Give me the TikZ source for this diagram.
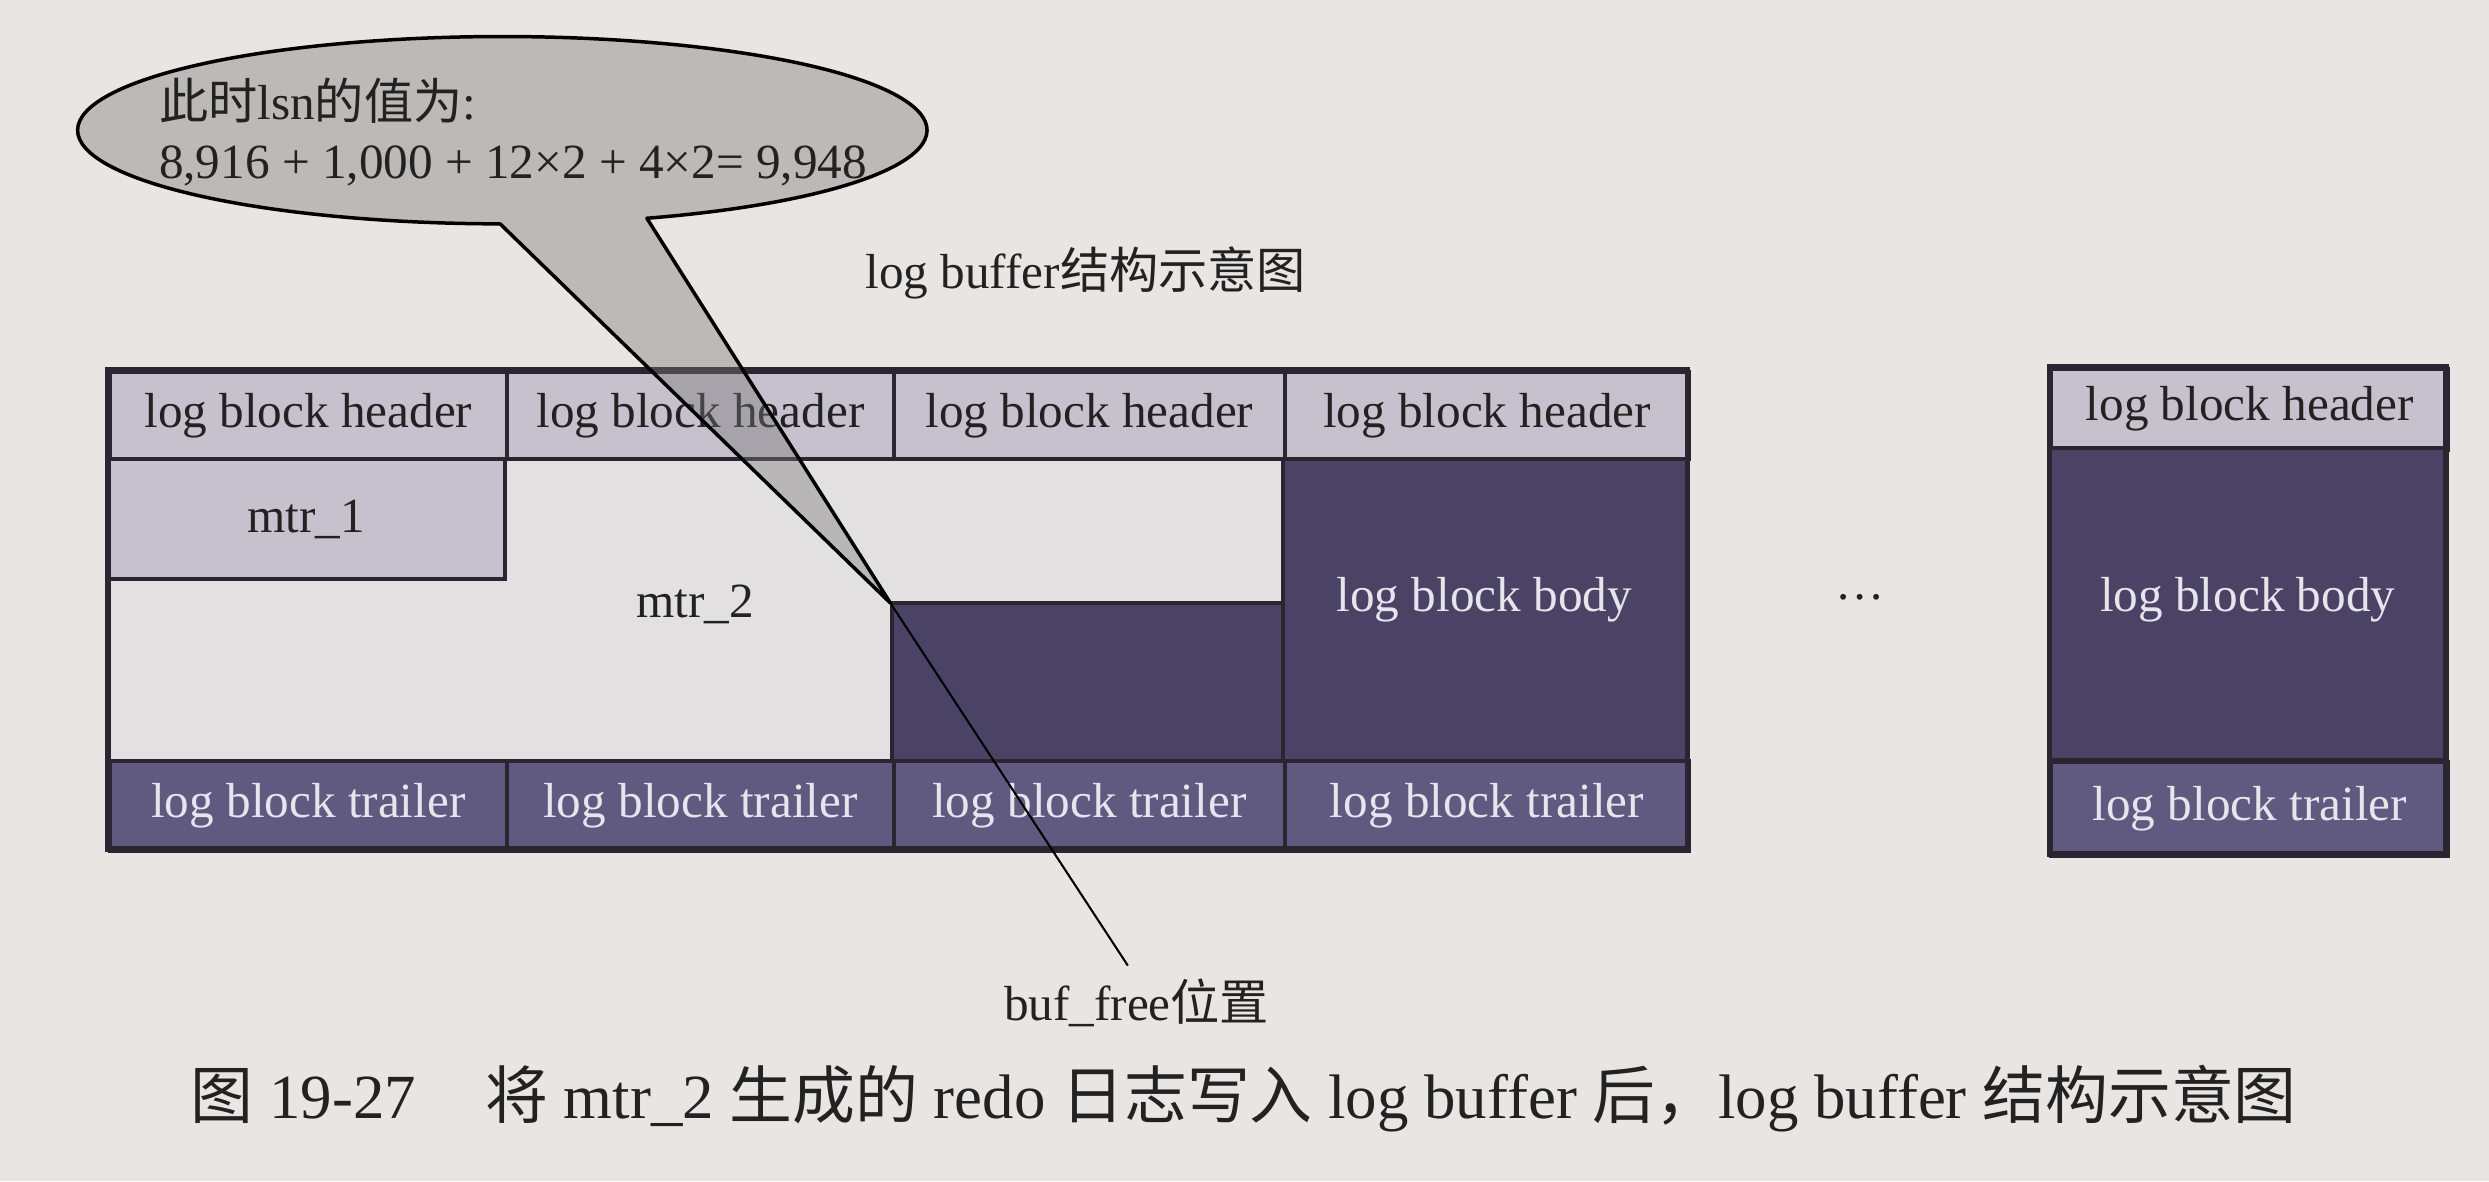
\documentclass[tikz,border=0pt]{standalone}
\usepackage{fontspec}
\setmainfont{Liberation Serif}
\newfontfamily\cjk{Noto Sans CJK SC}
\definecolor{bg}{HTML}{E8E5E2}
\definecolor{hdrc}{HTML}{C6C1CD}
\definecolor{lightc}{HTML}{E2E0E0}
\definecolor{darkc}{HTML}{4A4366}
\definecolor{trlc}{HTML}{605980}
\definecolor{bd}{HTML}{2A2530}
\definecolor{callc}{HTML}{7A7878}
\definecolor{txtd}{HTML}{222222}
\definecolor{txtl}{HTML}{E6E4EC}
\newcommand\lbl{\fontsize{31}{36}\selectfont}
\newcommand\capfont{\fontsize{39.6}{44}\selectfont}
\tikzset{
  cellbox/.style={draw=bd, line width=2.5pt, inner sep=0pt, anchor=north west},
  hdr/.style={cellbox, fill=hdrc, text=txtd, font=\lbl},
  trl/.style={cellbox, fill=trlc, text=txtl, font=\lbl},
  darklbl/.style={text=txtl, font=\lbl, inner sep=0pt},
  lightlbl/.style={text=txtd, font=\lbl, inner sep=0pt},
}
\begin{document}
\begin{tikzpicture}[x=1pt,y=-1pt]
\fill[bg] (0,0) rectangle (1568,744);
\useasboundingbox (0,0) rectangle (1568,744);

% body areas of the main buffer
\fill[lightc] (68,365) -- (318,365) -- (318,288) -- (808,288) -- (808,380)
  -- (562,380) -- (562,478) -- (68,478) -- cycle;
\fill[darkc] (562,380) rectangle (808,478);
\fill[darkc] (808,288) rectangle (1063,478);
\draw[bd, line width=2.5pt, fill=hdrc] (68,288) rectangle (318,365);
\draw[bd, line width=2.5pt] (562,478) -- (562,380) -- (808,380);
\draw[bd, line width=2.5pt] (808,288) -- (808,478);

% headers
\node[hdr, minimum width=250pt, minimum height=55pt] (h1) at (68,233) {log block header};
\node[hdr, minimum width=244pt, minimum height=55pt] (h2) at (318,233) {log block header};
\node[hdr, minimum width=246pt, minimum height=55pt] (h3) at (562,233) {log block header};
\node[hdr, minimum width=255pt, minimum height=55pt] (h4) at (808,233) {log block header};
% trailers
\node[trl, minimum width=250pt, minimum height=57pt] (t1) at (68,478) {log block trailer};
\node[trl, minimum width=244pt, minimum height=57pt] (t2) at (318,478) {log block trailer};
\node[trl, minimum width=246pt, minimum height=57pt] (t3) at (562,478) {log block trailer};
\node[trl, minimum width=255pt, minimum height=57pt] (t4) at (808,478) {log block trailer};
\draw[bd, line width=3.5pt] (68,233) rectangle (1063,535);

% body labels
\node[lightlbl] (mtr1) at (193,327) {mtr\_1};
\node[lightlbl] (mtr2) at (438,381) {mtr\_2};
\node[darklbl] (body) at (935,378) {log block body};

% dots
\node[lightlbl] (dots) at (1172,376) {\ldots};

% right block
\node[hdr, minimum width=250pt, minimum height=51pt] (rh) at (1291,231) {log block header};
\draw[bd, line width=2.5pt, fill=darkc] (1291,282) rectangle (1541,479);
\node[trl, minimum width=250pt, minimum height=59pt] (rt) at (1291,479) {log block trailer};
\draw[bd, line width=3.5pt] (1291,231) rectangle (1541,538);
\node[darklbl] (rbody) at (1416,378) {log block body};

% title
\node[lightlbl] (title) at (684,172) {log buffer{\cjk 结构示意图}};

% callout
\coordinate (tip) at (561,380);
\draw[draw=black, line width=2.2pt, fill=callc, fill opacity=0.4, line join=round]
  (407.5,137.5) arc[start angle=70.1, end angle=-269.7, x radius=267.5, y radius=59]
  -- (tip) -- cycle;
\node[lightlbl, align=left, anchor=west, font=\fontsize{31}{37}\selectfont] (note) at (100,83)
  {{\cjk 此时}lsn{\cjk 的值为}:\\8,916 + 1,000 + 12×2 + 4×2= 9,948};

% buf_free pointer
\node[lightlbl] (buf) at (716,632) {buf\_free{\cjk 位置}};
\draw[black, line width=1.3pt, shorten >=10pt] (tip) -- (buf.north);

% caption
\node[text=txtd, font=\capfont, anchor=west, inner sep=0pt] (cap) at (120,692)
  {{\cjk 图} 19-27\hspace{1.1em}{\cjk 将} mtr\_2 {\cjk 生成的} redo {\cjk 日志写入} log buffer {\cjk 后，}log buffer {\cjk 结构示意图}};
\end{tikzpicture}
\end{document}
